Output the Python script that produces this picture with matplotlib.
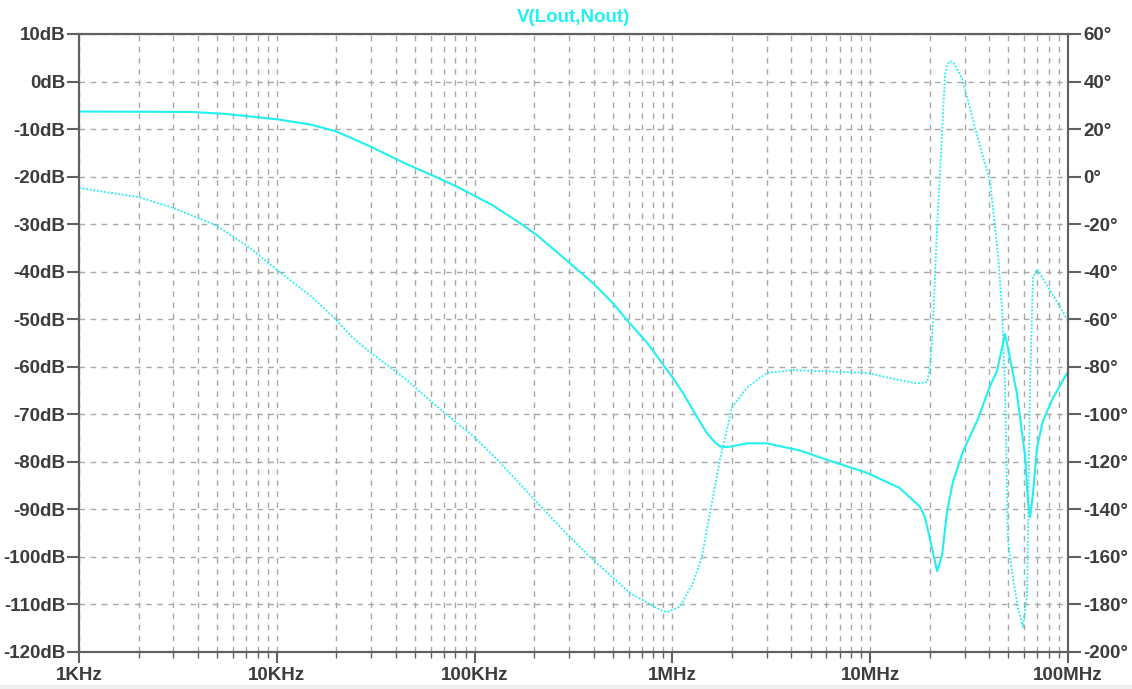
import matplotlib.pyplot as plt
import matplotlib.ticker as mticker
from matplotlib.patches import Rectangle

# magnitude (solid), dB
mag_freq = [1e3, 3.7e3, 5.5e3, 10.3e3, 15e3, 20e3, 29.5e3, 45e3, 64e3, 84e3,
            123e3, 170e3, 208e3, 303e3, 397e3, 500e3, 590e3, 747e3, 896e3,
            1.0e6, 1.13e6, 1.27e6, 1.49e6, 1.65e6, 1.75e6, 1.9e6, 2.4e6,
            3.0e6, 4.4e6, 6.5e6, 9.6e6, 14.1e6, 17.9e6, 18.9e6, 20.5e6,
            21.8e6, 23.1e6, 24.4e6, 26.2e6, 29.4e6, 34.7e6, 40.4e6, 43.8e6,
            48.0e6, 49.7e6, 55.2e6, 60.6e6, 62.8e6, 64.3e6, 66.5e6, 69.7e6,
            74.7e6, 83.9e6, 100e6]
mag_db = [-6.3, -6.4, -6.8, -8.0, -9.1, -10.5, -13.6, -17.3, -20.1, -22.4,
          -26.0, -29.8, -32.4, -38.2, -42.4, -46.6, -50.2, -55.0, -59.5,
          -62.2, -65.5, -69.1, -73.9, -76.0, -76.8, -76.9, -76.1,
          -76.1, -77.6, -80.0, -82.3, -85.5, -89.5, -91.6, -98.0,
          -103.0, -99.6, -90.8, -84.2, -77.9, -71.4, -64.0, -60.9,
          -53.1, -56.0, -65.7, -78.6, -88.4, -91.6, -86.8, -77.0,
          -71.4, -66.6, -61.0]

# phase (dotted), degrees
ph_freq = [1e3, 2e3, 3e3, 4e3, 4.9e3, 7e3, 10.3e3, 15e3, 20e3, 24e3, 29.5e3,
           43e3, 72.6e3, 98e3, 130e3, 208e3, 290e3, 383e3, 610e3, 870e3,
           935e3, 1.09e6, 1.27e6, 1.41e6, 1.5e6, 1.62e6, 1.75e6, 1.9e6,
           2.0e6, 2.4e6, 3.0e6, 4.1e6, 9.6e6, 14.1e6, 17.3e6, 19.4e6,
           20.1e6, 20.8e6, 21.8e6, 22.5e6, 23.1e6, 23.9e6, 24.5e6, 25.3e6,
           26.5e6, 29.1e6, 33.9e6, 40.4e6, 44.3e6, 46.4e6, 48.0e6, 49.7e6,
           52.7e6, 56e6, 59.2e6, 62.1e6, 64.3e6, 66.5e6, 69.7e6, 81e6, 100e6]
ph_deg = [-4.8, -8.6, -13.2, -17.4, -20.4, -28.8, -40.0, -50.6, -60.3, -67.5,
          -73.8, -84.0, -100.3, -109.0, -119.0, -137.3, -150.0, -160.0,
          -175.2, -182.3, -183.2, -181.0, -171.0, -160.0, -147.4, -133.0,
          -118.0, -105.3, -97.0, -88.5, -82.6, -81.4, -82.6, -85.6, -87.0,
          -86.5, -80.0, -60.7, -20.4, 0.7, 18.8, 42.8, 47.0, 48.6,
          47.5, 41.5, 20.5, -2.3, -33.0, -55.7, -88.0, -152.9,
          -168.9, -182.0, -189.5, -175.6, -88.0, -42.6, -38.9, -47.7, -60.7]

xticks = [1e3, 1e4, 1e5, 1e6, 1e7, 1e8]
xlabels = ["1KHz", "10KHz", "100KHz", "1MHz", "10MHz", "100MHz"]
db_ticks = list(range(10, -121, -10))
deg_ticks = list(range(60, -201, -20))

trace = "#22f0f0"
label_col = "#3c3c3c"
axis_col = "#606060"
grid_col = "#a8a8a8"
font = {"family": "Liberation Sans", "weight": "bold", "size": 13.5}

fig = plt.figure(figsize=(11.32, 6.89), dpi=100)
fig.patches.append(Rectangle((0, 0), 1, 0.006, transform=fig.transFigure,
                             color="#eeeeee", zorder=0))
ax = fig.add_axes([79 / 1132, 37 / 689, 989 / 1132, 618 / 689])
ax2 = ax.twinx()

ax.set_xscale("log")
ax.set_xlim(1e3, 1e8)
ax.set_ylim(-120, 10)
ax2.set_ylim(-200, 60)

ax.plot(mag_freq, mag_db, color=trace, lw=1.5, solid_joinstyle="round")
ax2.plot(ph_freq, ph_deg, color=trace, lw=1.3, linestyle=(0, (1, 1)))

ax.set_xticks(xticks)
ax.set_xticklabels(xlabels, fontdict=font, color=label_col)
ax.xaxis.set_minor_locator(mticker.LogLocator(base=10, subs=range(2, 10)))
ax.xaxis.set_minor_formatter(mticker.NullFormatter())
ax.set_yticks(db_ticks)
ax.set_yticklabels([f"{v}dB" for v in db_ticks], fontdict=font, color=label_col)
ax2.set_yticks(deg_ticks)
ax2.set_yticklabels([f"{v}\u00b0" for v in deg_ticks], fontdict=font, color=label_col)

ax.grid(True, which="both", axis="x", color=grid_col, linestyle=(0, (4, 4)), lw=1)
ax.grid(True, which="major", axis="y", color=grid_col, linestyle=(0, (4, 4)), lw=1)

for a in (ax, ax2):
    for s in a.spines.values():
        s.set_color(axis_col)
        s.set_linewidth(1.5)
ax.tick_params(axis="y", direction="out", length=9, width=1.5, color=axis_col, pad=1)
ax2.tick_params(axis="y", direction="out", length=9, width=1.5, color=axis_col, pad=2)
ax.tick_params(axis="x", which="major", direction="out", length=8, width=1.5,
               color=axis_col, pad=3)
ax.tick_params(axis="x", which="minor", direction="out", length=4, width=1,
               color=axis_col)

fig.text((79 + 1068) / 2 / 1132, 1 - 18 / 689, "V(Lout,Nout)", color=trace,
         ha="center", va="center", **font)

fig.savefig("out.png", dpi=100, facecolor="white")
